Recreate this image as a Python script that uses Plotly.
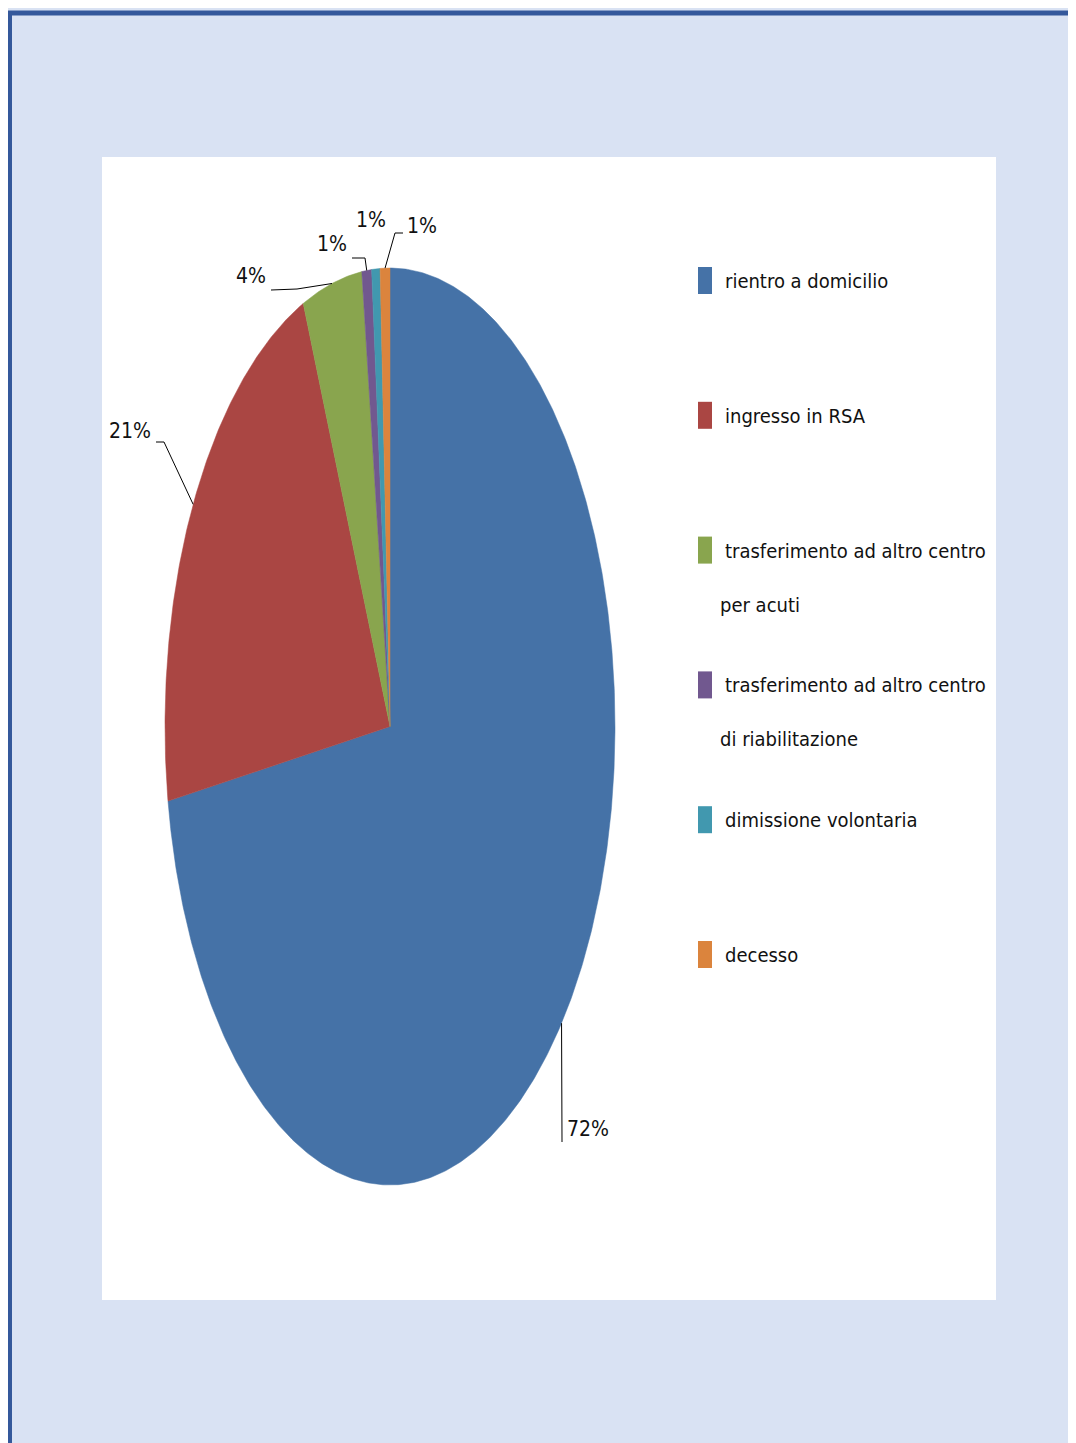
import math
import plotly.graph_objects as go

# ---------------- data ----------------
categories = [
    "rientro a domicilio",
    "ingresso in RSA",
    "trasferimento ad altro centro per acuti",
    "trasferimento ad altro centro di riabilitazione",
    "dimissione volontaria",
    "decesso",
]
legend_lines = [
    ["rientro a domicilio"],
    ["ingresso in RSA"],
    ["trasferimento ad altro centro", "per acuti"],
    ["trasferimento ad altro centro", "di riabilitazione"],
    ["dimissione volontaria"],
    ["decesso"],
]
values = [72.4, 21.3, 4.3, 0.7, 0.6, 0.7]
colors = ["#4572A7", "#AA4643", "#89A54E", "#71588F", "#4198AF", "#DB843D"]

# ---------------- layout constants (page pixels) ----------------
OFF = 8                     # default page body margin
PW, PH = 1076, 1443         # page size
W, H = PW - OFF, PH - OFF   # figure size
CX, CY = 390.0, 726.5       # ellipse centre (page px)
RX, RY = 225.0, 458.5       # ellipse radii (px)
FONT = "DejaVu Sans Condensed, Liberation Sans Narrow, Arial Narrow, sans-serif"
TXT = "#111111"


def dx(p):
    return (p - CX) / RX


def dy(q):
    return (CY - q) / RY


def fx(p):
    return (p - OFF) / W


def fy(q):
    return 1 - (q - OFF) / H


fig = go.Figure()

total = sum(values)
cum = 0.0
mids = []
for name, v, c in zip(categories, values, colors):
    a0 = cum / total * 2 * math.pi
    a1 = (cum + v) / total * 2 * math.pi
    n = max(4, int((a1 - a0) / (math.pi / 360)) + 2)
    xs = [0.0]
    ys = [0.0]
    for i in range(n + 1):
        a = a0 + (a1 - a0) * i / n
        xs.append(math.sin(a))
        ys.append(math.cos(a))
    xs.append(0.0)
    ys.append(0.0)
    fig.add_trace(go.Scatter(x=xs, y=ys, mode="lines", fill="toself",
                             fillcolor=c, line=dict(color=c, width=0.5),
                             name=name, hoverinfo="name", showlegend=False))
    am = (a0 + a1) / 2
    mids.append((math.sin(am), math.cos(am)))
    cum += v

# data label placement: (text x px, text y px, xanchor, leader points after edge)
label_pos = [
    (565, 1129, "left", [(562, 1142)]),
    (153, 431, "right", [(164, 442), (156, 442)]),
    (268, 276, "right", [(297, 289), (271, 290)]),
    (349, 244, "right", [(365, 258), (352, 258)]),
    (371, 220, "center", []),
    (405, 226, "left", [(395, 233), (403, 233)]),
]

for v, (ex, ey), (tx, ty, anc, pts) in zip(values, mids, label_pos):
    if pts:
        lx = [ex] + [dx(p[0]) for p in pts]
        ly = [ey] + [dy(p[1]) for p in pts]
        fig.add_trace(go.Scatter(x=lx, y=ly, mode="lines",
                                 line=dict(color="#000000", width=1),
                                 hoverinfo="skip", showlegend=False))
    fig.add_annotation(x=fx(tx), y=fy(ty), xref="paper", yref="paper",
                       text=f"{round(v / total * 100)}%", showarrow=False,
                       xanchor=anc, yanchor="middle",
                       font=dict(family=FONT, size=21, color=TXT))

# ---------------- legend (drawn manually) ----------------
LEG_X_SQ0, LEG_X_SQ1 = 698, 712
LEG_Y0, LEG_STEP, LINE_STEP = 281, 134.8, 54
legend_shapes = []
for i, (lines, c) in enumerate(zip(legend_lines, colors)):
    yc = LEG_Y0 + i * LEG_STEP
    legend_shapes.append(dict(type="rect", xref="paper", yref="paper",
                              x0=fx(LEG_X_SQ0), x1=fx(LEG_X_SQ1),
                              y0=fy(yc - 14), y1=fy(yc + 13),
                              fillcolor=c, line=dict(width=0), layer="above"))
    for j, t in enumerate(lines):
        fig.add_annotation(x=fx(723 if j == 0 else 718), y=fy(yc + j * LINE_STEP),
                           xref="paper", yref="paper", text=t,
                           showarrow=False, xanchor="left", yanchor="middle",
                           font=dict(family=FONT, size=20, color=TXT))

# background panel, white chart area and border lines
shapes = [
    dict(type="rect", xref="paper", yref="paper", x0=fx(102), x1=fx(996),
         y0=fy(157), y1=fy(1300), fillcolor="#FFFFFF",
         line=dict(width=0), layer="below"),
    dict(type="line", xref="paper", yref="paper", x0=fx(8), x1=1.0,
         y0=fy(13), y1=fy(13), line=dict(color="#34589B", width=5),
         layer="above"),
    dict(type="line", xref="paper", yref="paper", x0=fx(10), x1=fx(10),
         y0=fy(11), y1=0, line=dict(color="#34589B", width=4),
         layer="above"),
] + legend_shapes

fig.update_layout(
    width=W, height=H,
    margin=dict(l=0, r=0, t=0, b=0),
    paper_bgcolor="#D9E2F3",
    plot_bgcolor="rgba(0,0,0,0)",
    showlegend=False,
    shapes=shapes,
    xaxis=dict(range=[dx(OFF), dx(PW)], visible=False, fixedrange=True,
               domain=[0, 1]),
    yaxis=dict(range=[dy(PH), dy(OFF)], visible=False, fixedrange=True,
               domain=[0, 1]),
)

fig.write_html("out.html")
